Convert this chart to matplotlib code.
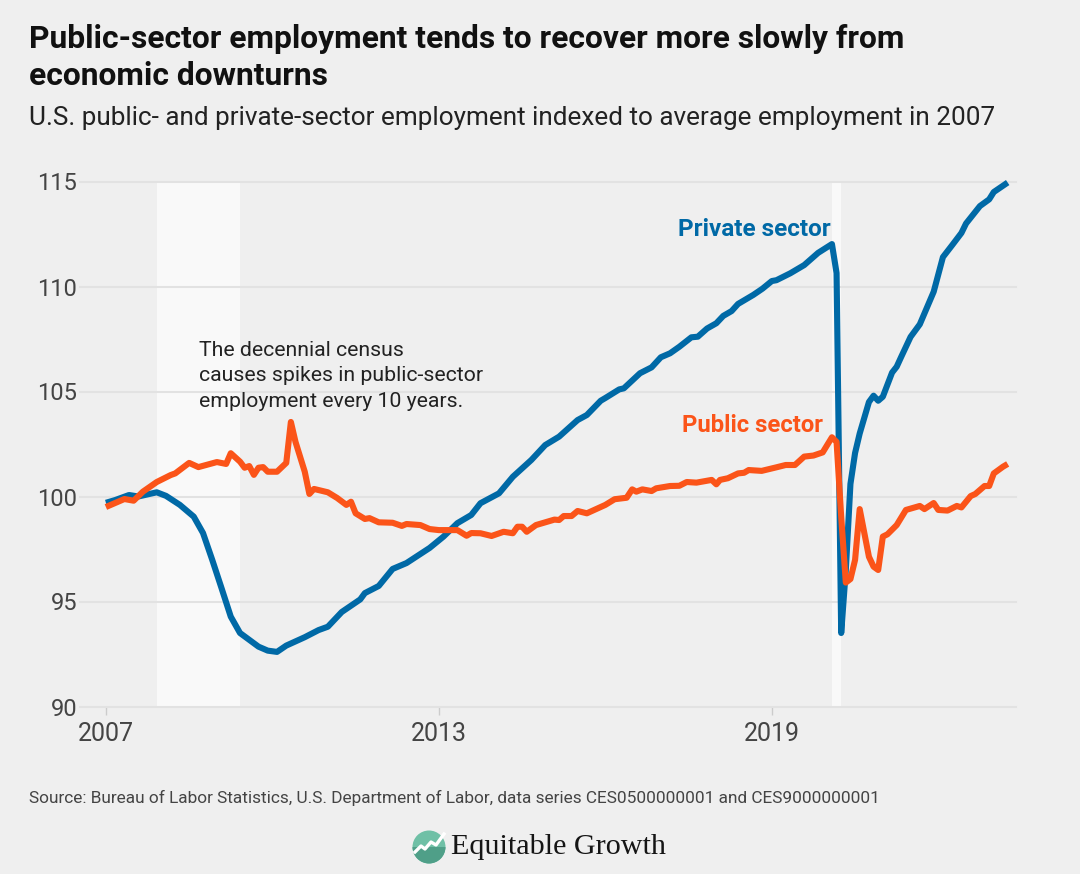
import matplotlib
matplotlib.use("Agg")
import matplotlib.pyplot as plt
from matplotlib.patches import Circle, Wedge
from matplotlib.lines import Line2D

# Months since January 2007
private_months = [0,2,5,7,11,13,16,19,21,23,25,27,29,33,35,37,39,43,46,48,51,55,56,59,62,65,70,73,76,79,81,
                  85,88,92,95,98,102,104,107,108,111,112,115.5,118,120,122,124,126.6,128,130,132,133.5,135.3,136.7,140,142,144,145,148,151,154,157,158,159,160,161,162,163,165,166,167,168,
                  170,171,172,174,176,179,181,183,185,186,189,191,192,195]
private_values = [99.7,99.83,100.07,100.0,100.2,100.03,99.6,99.04,98.26,96.98,95.64,94.28,93.5,92.85,92.66,92.6,92.9,93.3,93.64,93.8,94.5,95.1,95.4,95.74,96.55,96.83,97.55,98.09,98.73,99.12,99.68,
                  100.15,100.94,101.74,102.45,102.85,103.64,103.88,104.56,104.69,105.1,105.15,105.87,106.15,106.63,106.82,107.13,107.58,107.61,108.0,108.25,108.6,108.83,109.17,109.6,109.9,110.26,110.3,110.63,111.02,111.6,112.02,110.64,93.5,96.5,100.6,102.07,103.0,104.5,104.8,104.56,104.75,
                  105.9,106.18,106.66,107.6,108.2,109.75,111.4,111.97,112.55,113.0,113.83,114.15,114.5,114.95]

public_months = [0,4,6,8,11,14,15,18,20,24,26,27,29,30,31,32,33,34,35,37,39,40,41,43,44,45,48,50,52,53,54,56,57,59,62,64,65,68,70,72,76,78,79,81,83.4,
                 86,88,89,90,91,93,97,98,99,100.7,102,104,108,110,112.6,113.8,114.7,116,118,119,122,124,125.6,127.7,131,132,132.8,134.5,136.7,138,139,141.8,145,147,149,151,153,155,157,158,159,160,161,162,163,165,166,167,168,169,171,173,176,177,179,180,182,184,185,187,188,190,191,192,194,195]
public_values = [99.5,99.88,99.8,100.23,100.69,101.02,101.1,101.6,101.4,101.64,101.55,102.06,101.66,101.37,101.45,101.03,101.37,101.4,101.18,101.18,101.6,103.55,102.6,101.18,100.12,100.36,100.2,99.93,99.6,99.75,99.2,98.93,98.97,98.77,98.75,98.6,98.69,98.64,98.45,98.4,98.4,98.13,98.26,98.25,98.12,
                 98.32,98.25,98.56,98.56,98.32,98.64,98.9,98.88,99.07,99.07,99.31,99.2,99.6,99.87,99.94,100.34,100.23,100.34,100.26,100.39,100.5,100.51,100.69,100.66,100.79,100.58,100.79,100.87,101.1,101.13,101.26,101.22,101.39,101.5,101.5,101.9,101.95,102.1,102.82,102.6,99.04,95.9,96.07,96.98,99.4,97.13,96.66,96.5,98.09,98.2,98.64,99.36,99.55,99.4,99.69,99.36,99.33,99.55,99.48,100.02,100.12,100.5,100.5,101.1,101.42,101.55]

year_ticks = [0, 72, 144]
year_labels = ["2007", "2013", "2019"]
value_ticks = [90, 95, 100, 105, 110, 115]
recessions = [(11, 29), (157, 159)]

title = "Public-sector employment tends to recover more slowly from\neconomic downturns"
subtitle = "U.S. public- and private-sector employment indexed to average employment in 2007"
note = "The decennial census\ncauses spikes in public-sector\nemployment every 10 years."
source = "Source: Bureau of Labor Statistics, U.S. Department of Labor, data series CES0500000001 and CES9000000001"

BG = "#efefef"; GRID = "#e2e2e2"; BLUE = "#0069a6"; ORANGE = "#fb5419"; BAND = "#f9f9f9"
W, H = 1080, 874
fx = lambda p: p / W
fy = lambda p: 1 - p / H

fig = plt.figure(figsize=(10.8, 8.74), dpi=100, facecolor=BG)
ax = fig.add_axes([fx(80), fy(706.5), fx(1016 - 80), (706.5 - 181.5) / H], facecolor=BG)
ax.set_xlim(-5.6, 196.8)
ax.set_ylim(90, 115)

for a, b in recessions:
    ax.axvspan(a, b, color=BAND, lw=0, zorder=1)
ax.set_yticks(value_ticks)
ax.grid(axis="y", color=GRID, lw=1.5, zorder=2, clip_on=False)
for s in ax.spines.values():
    s.set_visible(False)

ax.plot(private_months, private_values, color=BLUE, lw=4.4, solid_joinstyle="round", solid_capstyle="butt", zorder=3, clip_on=False)
ax.plot(public_months, public_values, color=ORANGE, lw=4.4, solid_joinstyle="round", solid_capstyle="butt", zorder=4, clip_on=False)

ax.set_xticks(year_ticks, year_labels)
ax.tick_params(axis="x", length=6, width=1, color="#cccccc", pad=5, labelsize=18, labelcolor="#444444")
ax.tick_params(axis="y", length=0, pad=2, labelsize=17, labelcolor="#444444")
for lab in ax.get_xticklabels() + ax.get_yticklabels():
    lab.set_family("Roboto")

ax.text(156.8, 112.15, "Private sector", color=BLUE, fontsize=17.5, fontweight="bold", family="Roboto", ha="right", va="bottom")
ax.text(155.1, 102.85, "Public sector", color=ORANGE, fontsize=17.2, fontweight="bold", family="Roboto", ha="right", va="bottom")
ax.text(20.1, 107.42, note, color="#222222", fontsize=15.3, family="Roboto", ha="left", va="top", linespacing=1.45)

fig.text(fx(29), fy(24), title, fontsize=22.9, fontweight="bold", family="Roboto", color="#111111", va="top", linespacing=1.3)
fig.text(fx(29), fy(106), subtitle, fontsize=18.8, family="Roboto", color="#222222", va="top")
fig.text(fx(29), fy(790), source, fontsize=12.4, family="Roboto", color="#444444", va="top")

# Logo
cx, cy, r = 429, 847, 16.5
lax = fig.add_axes([0, 0, 1, 1], facecolor="none")
lax.set_xlim(0, W); lax.set_ylim(H, 0); lax.axis("off")
lax.add_patch(Circle((cx, cy), r, color="#6fc0a6", lw=0))
lax.add_patch(Wedge((cx, cy), r, 0, 180, color="#4f9f88", lw=0))
lax.add_line(Line2D([415, 421, 425, 431, 436, 444], [852, 846, 849, 842, 845, 834], color="white", lw=2.4))
fig.text(fx(451), fy(847), "Equitable Growth", fontsize=21.7, family="Liberation Serif", color="#151515", va="center")

fig.savefig("out.png", dpi=100, facecolor=BG)
